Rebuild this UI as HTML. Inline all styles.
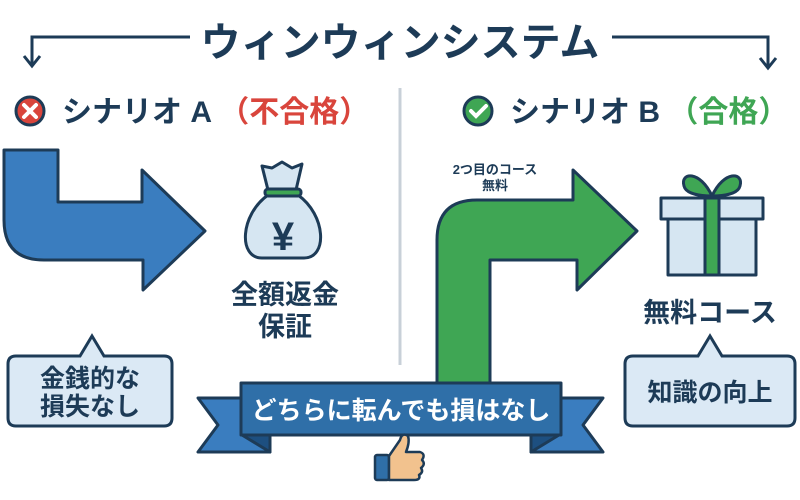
<!DOCTYPE html>
<html><head><meta charset="utf-8"><style>
html,body{margin:0;padding:0;background:#fff}
body{width:800px;height:500px;overflow:hidden;position:relative}
svg{position:absolute;left:0;top:0}
text{font-family:"Liberation Sans","Noto Sans CJK JP",sans-serif;font-weight:bold}
</style></head><body>
<svg width="800" height="500" viewBox="0 0 800 500">
<text x="400" y="56" text-anchor="middle" font-size="40" fill="#1d3b57">ウィンウィンシステム</text>
<g stroke="#1d3b57" stroke-width="3" fill="none">
<path d="M190 37 H32 V64"/><path d="M24 56 L32 66 L40 56"/>
<path d="M612 37 H768 V66"/><path d="M760 58 L768 68 L776 58"/>
</g>
<line x1="400" y1="88" x2="400" y2="365" stroke="#c8d0d8" stroke-width="3"/>
<circle cx="30" cy="111" r="14" fill="#d9453c" stroke="#1d3b57" stroke-width="3"/>
<path d="M24 105 L36 117 M36 105 L24 117" stroke="#fff" stroke-width="4" stroke-linecap="round"/>
<text x="62" y="122" font-size="30" fill="#1d3b57">シナリオ A <tspan fill="#d9453c">（不合格）</tspan></text>
<circle cx="478" cy="111" r="14" fill="#3fa654" stroke="#1d3b57" stroke-width="3"/>
<path d="M471 111 L476 116 L486 106" stroke="#fff" stroke-width="4" fill="none" stroke-linecap="round"/>
<text x="510" y="122" font-size="30" fill="#1d3b57">シナリオ B <tspan fill="#3fa654">（合格）</tspan></text>
<path d="M4 150 H58 V202 H142 V170 L205 231 L143 290 V260 H44 Q4 260 4 220 Z" fill="#3a7dbf" stroke="#1d3b57" stroke-width="3" stroke-linejoin="round"/>
<g stroke="#1d3b57" stroke-width="3" stroke-linejoin="round">
<path d="M262 166 L272 168 L282 162 L292 168 L302 164 L296 190 H268 Z" fill="#d6e6f2"/>
<path d="M268 195 C240 215 238 258 262 258 H304 C328 258 326 215 298 195 Z" fill="#d6e6f2"/>
<rect x="265" y="189" width="36" height="7" rx="3" fill="#3fa654"/>
</g>
<text x="283" y="250" text-anchor="middle" font-size="40" fill="#1d3b57">¥</text>
<text x="285" y="304" text-anchor="middle" font-size="27" fill="#1d3b57">全額返金</text>
<text x="285" y="336" text-anchor="middle" font-size="27" fill="#1d3b57">保証</text>
<path d="M16 356 H80 L92 336 L104 356 H164 Q172 356 172 364 V418 Q172 426 164 426 H16 Q8 426 8 418 V364 Q8 356 16 356 Z" fill="#dbe9f5" stroke="#1d3b57" stroke-width="3"/>
<text x="90" y="387" text-anchor="middle" font-size="25" fill="#1d3b57">金銭的な</text>
<text x="90" y="415" text-anchor="middle" font-size="25" fill="#1d3b57">損失なし</text>
<path d="M437 390 V240 Q437 200 477 200 H573 V170 L637 231 L577 290 V260 H490 V390 Z" fill="#3fa654" stroke="#1d3b57" stroke-width="3" stroke-linejoin="round"/>
<text x="495" y="174" text-anchor="middle" font-size="13" fill="#1d3b57">2つ目のコース</text>
<text x="495" y="190" text-anchor="middle" font-size="13" fill="#1d3b57">無料</text>
<g stroke="#1d3b57" stroke-width="3" stroke-linejoin="round">
<path d="M712 196 C700 170 680 172 684 186 C686 194 700 196 712 196 Z" fill="#3fa654"/>
<path d="M712 196 C724 170 744 172 740 186 C738 194 724 196 712 196 Z" fill="#3fa654"/>
<rect x="668" y="218" width="88" height="57" fill="#d6e6f2"/>
<rect x="661" y="198" width="102" height="21" fill="#d6e6f2"/>
<rect x="705" y="198" width="14" height="77" fill="#3fa654"/>
</g>
<text x="710" y="322" text-anchor="middle" font-size="27" fill="#1d3b57">無料コース</text>
<path d="M633 356 H698 L710 336 L722 356 H787 Q795 356 795 364 V418 Q795 426 787 426 H633 Q625 426 625 418 V364 Q625 356 633 356 Z" fill="#dbe9f5" stroke="#1d3b57" stroke-width="3"/>
<text x="710" y="401" text-anchor="middle" font-size="25" fill="#1d3b57">知識の向上</text>
<g stroke="#1d3b57" stroke-width="3" stroke-linejoin="round">
<path d="M242 398 H198 L218 425 L198 452 H270 V435 H242 Z" fill="#3a7dbf"/>
<path d="M559 398 H603 L583 425 L603 452 H531 V435 H559 Z" fill="#3a7dbf"/>
<path d="M242 435 L270 452 V435 Z" fill="#1d4f80"/>
<path d="M559 435 L531 452 V435 Z" fill="#1d4f80"/>
<rect x="241" y="383" width="320" height="52" fill="#2f6fa8"/>
</g>
<text x="401" y="419" text-anchor="middle" font-size="25" fill="#fff">どちらに転んでも損はなし</text>
<g stroke="#1d3b57" stroke-width="2.5" stroke-linejoin="round">
<rect x="375" y="455" width="14" height="25" rx="2" fill="#2f6fa8"/>
<path d="M389 456 L400 440 Q402 432 408 436 Q410 442 406 452 H420 Q426 454 422 460 Q426 464 421 468 Q424 472 419 475 Q421 480 414 480 H389 Z" fill="#f2c28e"/>
</g>
</svg>
</body></html>
